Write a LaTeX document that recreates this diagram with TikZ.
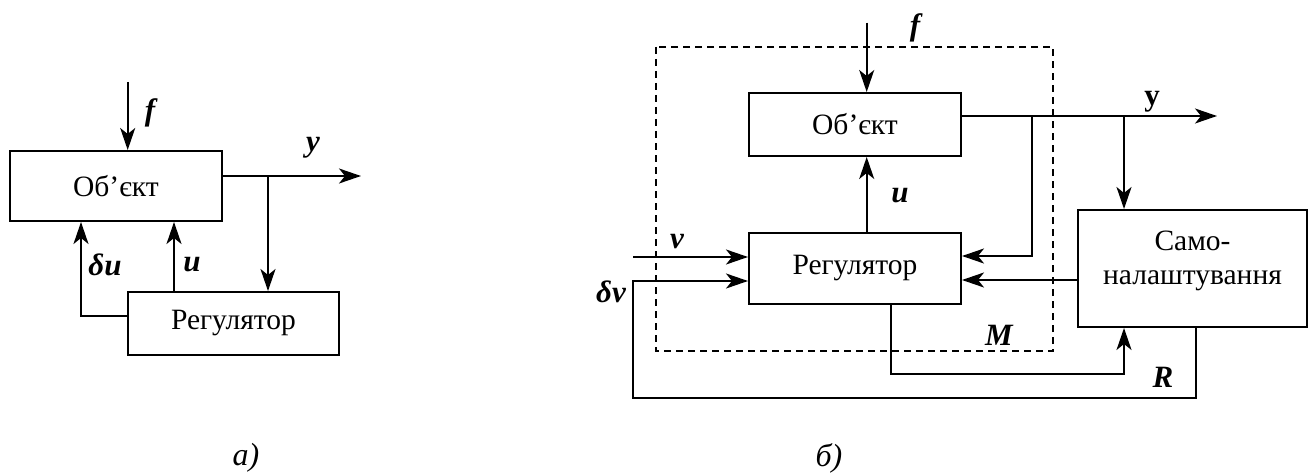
\documentclass[tikz,border=0pt]{standalone}
\usepackage{fontspec}
\setmainfont{Liberation Serif}
\usetikzlibrary{arrows.meta}
\begin{document}
\begin{tikzpicture}[x=1pt,y=-1pt,
  line width=2pt,
  box/.style={draw,rectangle,inner sep=0pt,font=\fontsize{29.5}{32}\selectfont},
  arr/.style={-{Stealth[length=22pt,width=15pt,inset=6pt]}},
  lbl/.style={font=\fontsize{31}{32}\selectfont\bfseries\itshape,inner sep=0pt},
  captext/.style={font=\fontsize{32}{34}\selectfont\itshape,inner sep=0pt},
  frame/.style={dashed,dash pattern=on 7pt off 5pt,line width=1.8pt}]
\useasboundingbox (0,0) rectangle (1311,476);

% ---------- a) ----------
\node[box,minimum width=212pt,minimum height=70pt] (obj1) at (116,186) {Об’єкт};
\node[box,minimum width=211pt,minimum height=63pt] (reg1) at (233.5,323.5) {Регулятор};
\coordinate (f1) at (127.7,82);
\coordinate (y1e) at (361,176);
\coordinate (b1) at (268,176);
\coordinate (u1) at (174,0);
\coordinate (du1) at (81,316);
\draw[arr] (f1) -- (f1 |- obj1.north);
\draw[arr] (obj1.east |- y1e) -- (y1e);
\draw[arr] (b1) -- (b1 |- reg1.north);
\draw[arr] (reg1.north -| u1) -- (obj1.south -| u1);
\draw[arr] (reg1.west |- du1) -- (du1) -- (du1 |- obj1.south);
\node[lbl] (lf1) at (150,113) {f};
\node[lbl] (ly1) at (313,148) {y};
\node[lbl] (ldu1) at (105,265) {δu};
\node[lbl] (lu1) at (192,265) {u};
\node[captext] (ca) at (246,458) {а)};

% ---------- б) ----------
\draw[frame] (656,47) rectangle (1053,351);
\node[box,minimum width=212pt,minimum height=63pt] (obj2) at (855,124.5) {Об’єкт};
\node[box,minimum width=212pt,minimum height=71pt] (reg2) at (855,268.5) {Регулятор};
\node[box,minimum width=229pt,minimum height=117pt] (sam) at (1192.5,268.5) {};
\node[font=\fontsize{29.5}{34}\selectfont,align=center,inner sep=0pt] (samtxt) at (1192.5,261) {Само-\\налаштування};
\coordinate (f2) at (866.7,22.7);
\coordinate (v0) at (633,257);
\coordinate (dv0) at (633,281);
\coordinate (dvb) at (633,398);
\coordinate (rx) at (1196,398);
\coordinate (mx) at (891,374);
\coordinate (mr) at (1124,374);
\coordinate (y2e) at (1217,116);
\coordinate (b2) at (1032,116);
\coordinate (b2d) at (1032,256);
\coordinate (b3) at (1124,116);
\coordinate (s0) at (1100,280);
\draw[arr] (f2) -- (f2 |- obj2.north);
\draw[arr] (reg2.north -| f2) -- (obj2.south -| f2);
\draw[arr] (v0) -- (reg2.west |- v0);
\draw[arr] (sam.south -| rx) -- (rx) -- (dvb) -- (dv0) -- (reg2.west |- dv0);
\draw[arr] (reg2.south -| mx) -- (mx) -- (mr) -- (mr |- sam.south);
\draw[arr] (obj2.east |- y2e) -- (y2e);
\draw[arr] (b2) -- (b2d) -- (reg2.east |- b2d);
\draw[arr] (b3) -- (b3 |- sam.north);
\draw[arr] (sam.west |- s0) -- (reg2.east |- s0);
\node[lbl] (lf2) at (915,28) {f};
\node[lbl] (lu2) at (900,196) {u};
\node[lbl] (lv) at (677,242) {v};
\node[lbl] (ldv) at (611,292) {δv};
\node[lbl,font=\fontsize{31}{32}\selectfont\bfseries] (ly2) at (1152,102) {y};
\node[lbl] (lM) at (999,335) {M};
\node[lbl] (lR) at (1163,377) {R};
\node[captext] (cb) at (829,458) {б)};
\end{tikzpicture}
\end{document}
